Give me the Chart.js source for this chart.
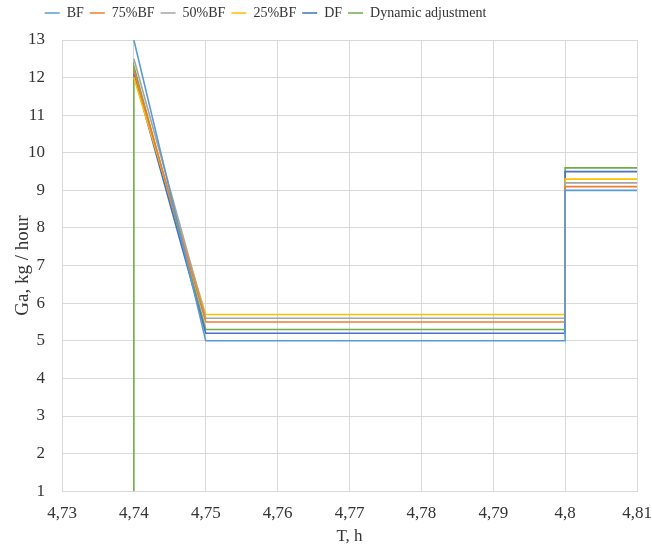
<!DOCTYPE html>
<html>
<head>
<meta charset="utf-8">
<script src="https://cdn.jsdelivr.net/npm/chart.js@4/dist/chart.umd.min.js"></script>
<style>
  body { margin: 0; background: #fff; }
  #wrap { width: 652px; height: 549px; }
</style>
</head>
<body>
<div id="wrap"><canvas id="chart"></canvas></div>
<script>
// Data
const seriesNames = ['BF', '75%BF', '50%BF', '25%BF', 'DF', 'Dynamic adjustment'];
const seriesColors = ['#5B9BD5', '#ED7D31', '#A5A5A5', '#FFC000', '#4472C4', '#70AD47'];
const timePoints = [4.74, 4.75, 4.8, 4.8, 4.81];
const bf = [13.0, 5.0, 5.0, 9.0, 9.0];
const bf75 = [12.2, 5.5, 5.5, 9.1, 9.1];
const bf50 = [12.5, 5.6, 5.6, 9.2, 9.2];
const bf25 = [12.0, 5.7, 5.7, 9.3, 9.3];
const df = [12.1, 5.2, 5.2, 9.5, 9.5];
const dynamic = [12.3, 5.3, 5.3, 9.6, 9.6];
const dynamicStart = 1;

const fmt = v => String(Math.round(v * 100) / 100).replace('.', ',');
const textColor = '#333333';
const serif = 'Liberation Serif';

const allValues = [bf, bf75, bf50, bf25, df, dynamic];
const datasets = allValues.map((vals, i) => {
    let pts = vals.map((y, j) => ({ x: timePoints[j], y: y }));
    if (i === 5) pts.unshift({ x: timePoints[0], y: dynamicStart });
    return {
        label: seriesNames[i],
        data: pts,
        borderColor: seriesColors[i],
        backgroundColor: seriesColors[i],
        borderWidth: 1.6,
        showLine: true,
        pointRadius: 0,
        tension: 0
    };
});

// more room under the legend, and legend sits left of centre like the original
const legendTweak = {
    id: 'legendTweak',
    beforeInit(chart) {
        const lg = chart.legend;
        const fit = lg.fit;
        lg.fit = function () {
            fit.bind(lg)();
            this.height += 10;
        };
        const draw = lg.draw;
        lg.draw = function () {
            const c = chart.ctx;
            c.save();
            c.translate(-61, 0);
            draw.bind(lg)();
            c.restore();
        };
    }
};

const ctx = document.getElementById('chart');

new Chart(ctx, {
    type: 'scatter',
    data: { datasets: datasets },
    plugins: [legendTweak],
    options: {
        responsive: true,
        maintainAspectRatio: false,
        animation: false,
        layout: { padding: { left: 1, right: 0, top: 0, bottom: 2 } },
        plugins: {
            legend: {
                position: 'top',
                labels: {
                    font: { family: serif, size: 14 },
                    color: textColor,
                    boxWidth: 15,
                    boxHeight: 0,
                    padding: 6
                }
            },
            tooltip: { enabled: false }
        },
        scales: {
            x: {
                type: 'linear',
                min: 4.73,
                max: 4.81,
                afterFit: s => { s.paddingRight = 15; },
                ticks: {
                    stepSize: 0.01,
                    callback: v => fmt(v),
                    font: { family: serif, size: 17 },
                    color: textColor,
                    maxRotation: 0,
                    padding: 12
                },
                grid: { color: '#d9d9d9', drawTicks: false },
                border: { color: '#d9d9d9' },
                title: {
                    display: true,
                    text: 'T, h',
                    font: { family: serif, size: 17 },
                    color: textColor,
                    padding: { top: -9, bottom: 0 }
                }
            },
            y: {
                min: 1,
                max: 13,
                ticks: {
                    stepSize: 1,
                    font: { family: serif, size: 17 },
                    color: textColor,
                    padding: 17
                },
                grid: { color: '#d9d9d9', drawTicks: false },
                border: { color: '#d9d9d9' },
                title: {
                    display: true,
                    text: 'Ga, kg / hour',
                    font: { family: serif, size: 19, lineHeight: 1 },
                    color: textColor,
                    padding: { top: 13, bottom: -22 }
                }
            }
        }
    }
});
</script>
</body>
</html>
